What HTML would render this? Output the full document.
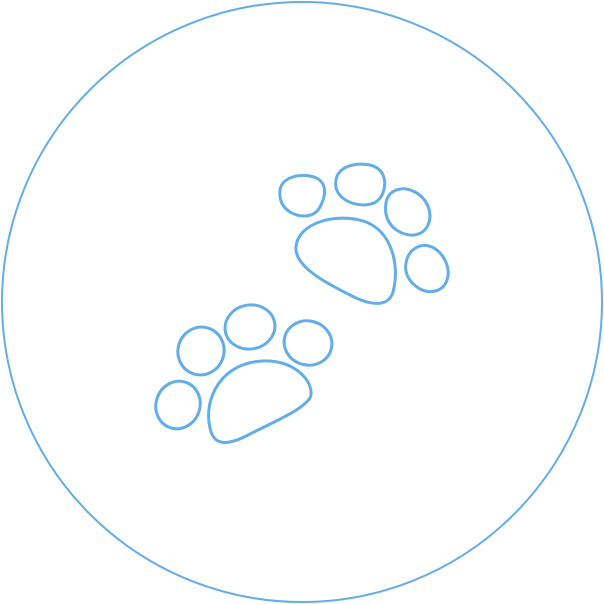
<!DOCTYPE html>
<html><head><meta charset="utf-8"><style>html,body{margin:0;padding:0;background:#fff;width:604px;height:604px;overflow:hidden}</style></head>
<body>
<svg width="604" height="604" viewBox="0 0 604 604">
<circle cx="302" cy="302" r="300" fill="none" stroke="#64aee8" stroke-width="2"/>
<g fill="none" stroke="#64aee8" stroke-width="3" stroke-linejoin="round">
<path d="M296 247 C298 222 338 212 366 222 C392 232 400 266 393 292 C389 306 374 306 356 298 C332 286 294 268 296 247 Z"/>
<path d="M280 190 C282 177 300 173 314 177 C328 182 326 196 320 207 C314 218 300 218 290 212 C282 207 279 199 280 190 Z"/>
<path d="M336 180 C338 167 354 162 370 165 C386 169 387 184 382 195 C377 205 365 207 352 203 C340 199 334 190 336 180 Z"/>
<path d="M386 203 C388 190 402 185 415 192 C428 199 433 214 428 225 C423 236 410 238 398 231 C388 225 384 214 386 203 Z"/>
<path d="M406 263 C408 250 420 242 432 247 C444 253 451 268 447 280 C443 292 430 294 420 289 C410 283 404 274 406 263 Z"/>
</g>
<g fill="none" stroke="#64aee8" stroke-width="3" stroke-linejoin="round">
<path d="M210 428 C203 398 222 363 262 361 C296 359 316 384 310 398 C302 410 276 421 252 433 C230 445 214 448 210 428 Z"/>
<ellipse cx="178" cy="405" rx="22" ry="24" transform="rotate(20 178 405)"/>
<ellipse cx="201" cy="351" rx="23" ry="24" transform="rotate(20 201 351)"/>
<ellipse cx="250" cy="327" rx="25" ry="22" transform="rotate(-10 250 327)"/>
<ellipse cx="308" cy="343" rx="24" ry="22" transform="rotate(15 308 343)"/>
</g>
</svg>
</body></html>
